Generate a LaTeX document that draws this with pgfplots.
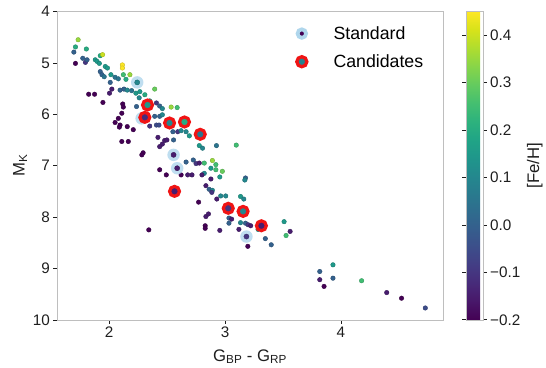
\documentclass[border=0pt]{standalone}
\usepackage{pgfplots}
\pgfplotsset{compat=1.18}
\usepackage{pgfplotstable}
\usepackage{fontspec}
\setmainfont{Liberation Sans}
\definecolor{halo}{RGB}{175,214,236}
\definecolor{ringred}{RGB}{240,20,20}
\definecolor{txt}{RGB}{30,30,30}
\definecolor{frame}{RGB}{190,190,190}
\definecolor{vdark}{RGB}{68,1,84}
\definecolor{vteal}{RGB}{38,130,142}

\pgfplotstableread{
x y c
1.732 4.55 0.35
1.709 4.69 0.2
1.695 4.79 0.0
1.803 4.73 0.2
1.709 5.01 -0.2
1.772 4.91 0.0
1.795 4.99 -0.1
1.809 4.94 0.0
1.880 4.94 0.15
1.895 4.97 0.15
1.923 4.86 0.2
1.943 4.84 0.4
1.915 5.01 0.15
1.966 5.07 0.15
1.985 5.10 0.15
1.923 5.17 0.0
1.938 5.23 0.0
1.957 5.27 0.05
2.015 5.23 0.15
2.051 5.28 0.05
2.079 5.31 0.05
2.114 5.04 0.45
2.114 5.10 0.45
2.122 5.23 0.25
2.145 5.32 0.2
2.179 5.23 0.35
2.009 5.38 0.0
2.023 5.51 -0.15
2.003 5.59 -0.15
2.094 5.53 0.0
2.128 5.51 0.0
2.156 5.53 0.1
2.194 5.54 0.05
2.231 5.59 0.15
2.265 5.56 0.15
2.308 5.62 0.2
2.259 5.68 0.1
2.393 5.51 0.3
1.823 5.61 -0.2
1.874 5.61 -0.2
1.946 5.77 -0.2
2.117 5.80 -0.2
2.122 5.86 -0.2
2.109 5.98 -0.2
2.079 6.08 -0.2
2.051 6.16 -0.2
2.094 6.21 -0.2
2.088 6.25 -0.2
2.156 6.24 -0.2
2.208 6.30 -0.2
2.109 6.53 -0.2
2.165 6.53 -0.2
2.293 6.75 -0.2
2.282 6.79 -0.2
2.236 5.85 0.0
2.350 5.74 0.15
2.408 5.78 -0.1
2.436 5.84 0.0
2.459 5.89 0.1
2.535 5.86 0.35
2.587 5.87 0.25
2.393 6.04 0.0
2.436 6.04 0.0
2.459 6.01 0.1
2.350 6.23 -0.1
2.408 6.21 -0.05
2.430 6.21 -0.05
2.550 6.34 0.0
2.592 6.34 -0.1
2.621 6.32 0.1
2.692 6.42 0.15
2.664 6.34 0.1
2.421 6.45 -0.15
2.479 6.51 -0.15
2.459 6.58 -0.15
2.498 6.50 -0.15
2.556 6.50 0.0
2.436 6.63 -0.15
2.778 6.61 0.15
2.806 6.66 0.1
2.926 6.61 0.05
3.097 6.60 0.25
2.436 7.08 -0.2
2.493 7.18 -0.2
2.621 7.18 -0.2
2.664 6.93 0.0
2.726 6.89 0.0
2.750 6.96 -0.1
2.778 6.95 -0.15
2.821 6.95 0.25
2.891 6.90 0.35
2.878 7.05 0.15
2.921 6.98 0.25
2.921 7.08 0.25
2.821 7.15 0.1
2.678 7.18 -0.15
2.715 7.18 -0.15
2.801 7.18 -0.15
3.177 7.24 0.0
2.977 7.11 0.3
2.878 7.26 -0.15
2.955 7.22 0.15
2.835 7.39 -0.15
2.863 7.46 0.0
2.891 7.48 0.1
2.886 7.52 -0.1
2.963 7.59 0.1
3.006 7.59 0.1
2.929 7.65 -0.15
2.772 7.71 -0.2
3.171 7.28 0.1
3.134 7.60 0.15
3.162 7.65 0.1
2.835 7.99 -0.15
2.857 7.94 -0.15
3.034 8.02 0.0
3.057 8.04 -0.15
3.034 8.12 0.0
2.829 8.17 -0.2
2.829 8.22 -0.2
2.955 8.26 -0.15
3.134 8.11 0.1
3.177 8.12 0.0
3.199 8.15 -0.1
3.222 8.17 -0.15
3.120 8.24 -0.15
3.197 8.57 -0.2
2.342 8.25 -0.2
3.285 8.24 0.15
3.348 8.42 0.0
3.399 8.54 0.0
3.510 8.09 0.15
3.527 8.36 0.25
3.562 8.28 -0.15
3.818 9.06 0.0
3.932 8.93 0.15
3.818 9.22 -0.15
3.932 9.19 0.0
3.855 9.35 -0.2
4.179 9.24 0.25
4.396 9.47 -0.15
4.524 9.58 -0.2
4.729 9.77 -0.05
}\normaltab

\pgfplotstableread{
x y c
2.242 5.38 0.1
2.280 6.08 -0.1
2.556 6.79 -0.15
2.587 7.05 -0.15
3.185 8.38 -0.1
}\stdtab

\pgfplotstableread{
x y c
2.331 5.82 0.15
2.308 6.06 -0.12
2.521 6.17 0.1
2.650 6.15 0.2
2.786 6.39 0.05
2.564 7.50 -0.15
3.028 7.83 -0.1
3.156 7.89 0.1
3.314 8.17 -0.15
}\candtab

\begin{document}
\begin{tikzpicture}
\begin{axis}[
  scale only axis,
  width=390bp, height=312bp,
  xmin=1.553, xmax=4.88,
  ymin=4, ymax=10, y dir=reverse,
  xtick={2,3,4}, ytick={4,5,6,7,8,9,10},
  axis line style={frame},
  tick align=outside, tick pos=left,
  major tick length=4bp,
  tick style={txt, line width=0.6pt},
  ticklabel style={font=\fontsize{15.5}{18}\selectfont, text=txt},
  /pgf/number format/assume math mode=true,
  xlabel={G\textsubscript{BP} - G\textsubscript{RP}},
  ylabel={M\textsubscript{K}},
  label style={font=\fontsize{17}{20}\selectfont, text=txt},
  xlabel style={yshift=-5bp},
  ylabel style={yshift=-1bp},
  colormap/viridis,
  point meta min=-0.2, point meta max=0.45,
  colorbar,
  colorbar style={
    width=17bp,
    at={(parent axis.north east)}, anchor=north west, xshift=15bp,
    ytick={-0.2,-0.1,0,0.1,0.2,0.3,0.4},
    yticklabels={−0.2,−0.1,0.0,0.1,0.2,0.3,0.4},
    ylabel={[Fe/H]},
    axis line style={frame},
    tick align=outside, major tick length=4bp,
    tick style={txt, line width=0.6pt},
    yticklabel style={font=\fontsize{15.5}{18}\selectfont, text=txt},
    ylabel style={font=\fontsize{17}{20}\selectfont, text=txt},
  },
  legend style={at={(0.613,0.965)}, anchor=north west, draw=none, fill=none,
    font=\fontsize{18}{21}\selectfont, column sep=25bp, row sep=10bp},
  legend cell align=left,
]
\addlegendimage{only marks, mark=*, mark size=4.3bp,
  mark options={fill=vdark, draw=halo, line width=3.8bp}}
\addlegendentry{Standard}
\addlegendimage{only marks, mark=*, mark size=5.1bp,
  mark options={fill=vteal, draw=ringred, line width=3.3bp}}
\addlegendentry{Candidates}

\addplot[scatter, only marks, mark=*, mark size=2.3bp, point meta=explicit, forget plot]
  table[x=x, y=y, meta=c] {\normaltab};
\addplot[only marks, mark=*, mark size=6.3bp, forget plot, draw=halo, fill=halo,
  mark options={fill=halo, draw=halo, fill opacity=0.8, draw opacity=0}]
  table[x=x, y=y] {\stdtab};
\addplot[scatter, only marks, mark=*, mark size=2.6bp, point meta=explicit, forget plot]
  table[x=x, y=y, meta=c] {\stdtab};
\addplot[scatter, only marks, mark=*, mark size=5bp, point meta=explicit, forget plot,
  scatter/use mapped color={draw=ringred, fill=mapped color, line width=3.2bp}]
  table[x=x, y=y, meta=c] {\candtab};
\end{axis}
\path (current bounding box.west) ++(-10bp,0);
\path (current bounding box.north) ++(0,3bp);
\end{tikzpicture}
\end{document}
